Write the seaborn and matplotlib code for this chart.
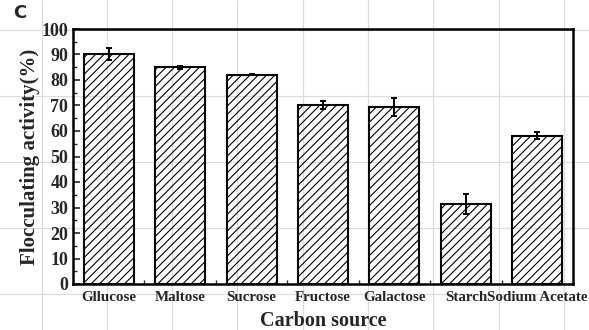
import matplotlib
matplotlib.use("Agg")
import matplotlib.pyplot as plt
from matplotlib.lines import Line2D
from matplotlib.ticker import MultipleLocator, FixedLocator
import seaborn as sns
import numpy as np

categories = ["Gllucose", "Maltose", "Sucrose", "Fructose", "Galactose", "Starch", "Sodium Acetate"]
activity = [90.2, 85.0, 82.1, 70.3, 69.5, 31.4, 58.2]
errors = [2.3, 0.5, 0.3, 1.5, 3.5, 3.9, 1.4]

sns.set_theme(style="white")
plt.rcParams["font.family"] = ["Liberation Serif", "DejaVu Serif"]
plt.rcParams["hatch.linewidth"] = 0.8
plt.rcParams["hatch.color"] = "black"

fig = plt.figure(figsize=(5.89, 3.30), dpi=100)
fig.patch.set_facecolor("white")

# faint page grid behind the figure
W, H = 589.0, 330.0
for gx in [42, 107, 172, 237, 303, 368, 433, 499, 564]:
    fig.add_artist(Line2D([gx / W, gx / W], [0, 1], color="#dcdcdc", lw=0.9, zorder=0))
for gy in [30, 96, 162, 228, 294]:
    fig.add_artist(Line2D([0, 1], [1 - gy / H, 1 - gy / H], color="#dcdcdc", lw=0.9, zorder=0))

ax = fig.add_axes([73 / W, 1 - 284 / H, 500 / W, 255 / H])
ax.patch.set_alpha(0)

sns.barplot(x=categories, y=activity, color="white", edgecolor="black",
            linewidth=1.5, width=0.7, hatch="////", ax=ax, zorder=2)
for p in ax.patches:
    p.set_facecolor("none")

ax.errorbar(np.arange(len(categories)), activity, yerr=errors, fmt="none",
            ecolor="black", elinewidth=1.4, capsize=2.5, capthick=1.4, zorder=3)

ax.set_xlim(-0.5, len(categories) - 0.5)
ax.set_ylim(0, 100)
ax.yaxis.set_major_locator(MultipleLocator(10))
ax.yaxis.set_minor_locator(MultipleLocator(5))
ax.xaxis.set_minor_locator(FixedLocator(np.arange(len(categories) - 1) + 0.5))

ax.tick_params(axis="y", which="major", direction="in", length=5, width=1.2,
               left=True, right=False, labelsize=13, pad=3.5)
ax.tick_params(axis="y", which="minor", direction="in", length=3, width=1.0,
               left=True, right=False)
ax.tick_params(axis="x", which="major", length=0, labelsize=10.8, pad=5)
ax.tick_params(axis="x", which="minor", direction="in", length=3, width=1.0,
               bottom=True, top=False)

for lab in ax.get_xticklabels() + ax.get_yticklabels():
    lab.set_fontweight("bold")

for s in ax.spines.values():
    s.set_visible(True)
    s.set_color("black")
    s.set_linewidth(1.8)

ax.set_xlabel("Carbon source", fontsize=14.5, fontweight="bold", labelpad=5)
ax.set_ylabel("Flocculating activity(%)", fontsize=15, fontweight="bold", labelpad=1)

fig.text(13 / W, 1 - 4 / H, "C", fontsize=13, fontweight="bold",
         family=["DejaVu Sans"], ha="left", va="top")

fig.savefig("out.png", dpi=100)
